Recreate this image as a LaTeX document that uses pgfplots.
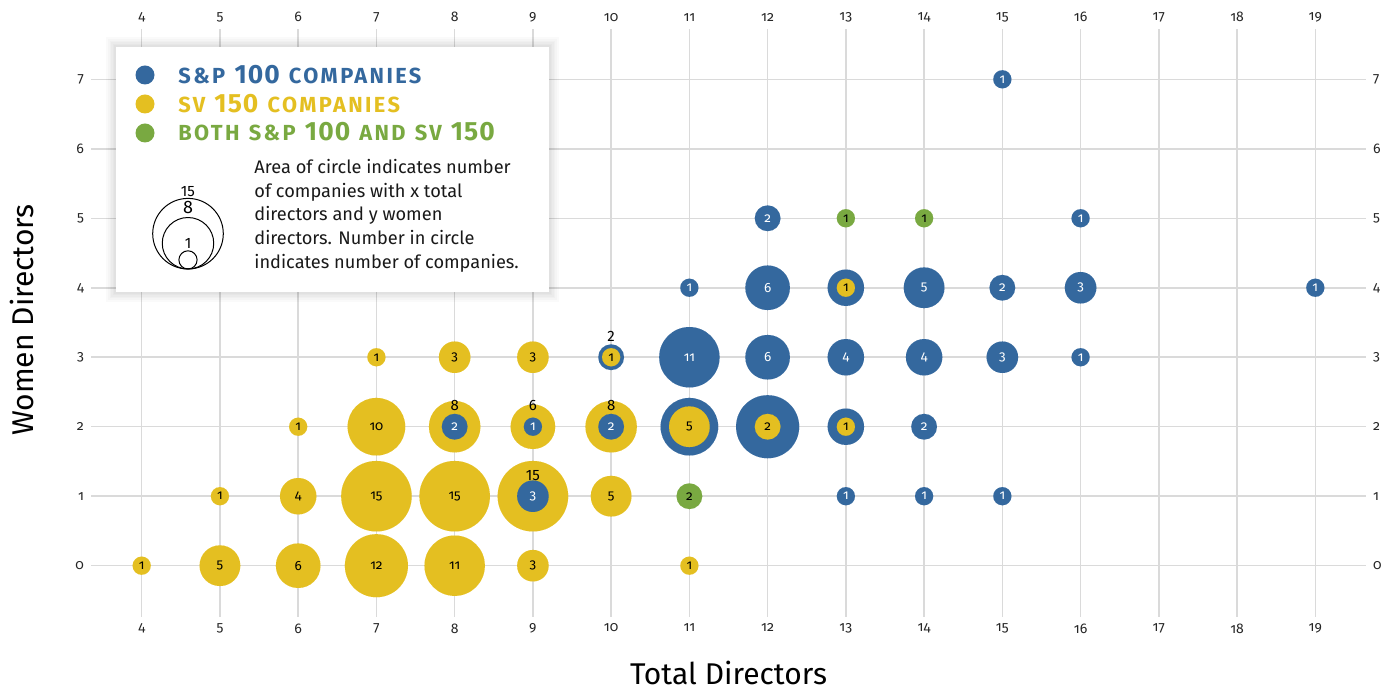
\documentclass[border=0pt]{standalone}
\usepackage{pgfplots}
\pgfplotsset{compat=1.18}
\usepackage{pgfplotstable}
\usepackage{fontspec}
\setmainfont{Fira Sans}[Numbers=OldStyle]
\definecolor{spblue}{RGB}{52,104,158}
\definecolor{svyellow}{RGB}{228,191,33}
\definecolor{bothgreen}{RGB}{121,169,65}
\definecolor{gridgray}{RGB}{218,218,218}
\newcommand\bubfont{\fontsize{6.7}{7}\selectfont}

\pgfplotstableread{
x y n
13 1 1
14 1 1
15 1 1
14 2 2
11 3 11
12 3 6
13 3 4
14 3 4
15 3 3
16 3 1
11 4 1
12 4 6
14 4 5
15 4 2
16 4 3
19 4 1
12 5 2
16 5 1
15 7 1
}\blueonly
\pgfplotstableread{
x y n
11 2 10
12 2 12
13 2 4
13 4 4
}\bluehidden
\pgfplotstableread{
x y n
10 3 2
}\blueup
\pgfplotstableread{
x y n
8 2 8
9 2 6
10 2 8
9 1 15
}\yellowup
\pgfplotstableread{
x y n
4 0 1
5 0 5
6 0 6
7 0 12
8 0 11
9 0 3
11 0 1
5 1 1
6 1 4
7 1 15
8 1 15
10 1 5
6 2 1
7 2 10
11 2 5
12 2 2
13 2 1
7 3 1
8 3 3
9 3 3
10 3 1
13 4 1
}\yellowc
\pgfplotstableread{
x y n
8 2 2
9 2 1
10 2 2
9 1 3
}\blueinner
\pgfplotstableread{
x y n
11 1 2
13 5 1
14 5 1
}\greenc

\pgfplotsset{
  bub/.style={scatter, only marks, mark=*, point meta=\thisrow{n},
    visualization depends on={4.55*sqrt(\thisrow{n})\as\rr},
    scatter/@pre marker code/.code={\scope[mark size=\rr pt, fill=#1, draw=#1, line width=0.01pt]},
    scatter/@post marker code/.code={\endscope}},
  lab/.style={only marks, mark=none, point meta=\thisrow{n}, nodes near coords,
    every node near coord/.append style={anchor=center, font=\bubfont, text=#1, inner sep=0pt}},
  labup/.style={only marks, mark=none, point meta=\thisrow{n}, nodes near coords,
    every node near coord/.append style={anchor=center, yshift=10.5pt, font=\fontsize{7.5}{8}\selectfont\addfontfeatures{Numbers=Lining}, text=black, inner sep=0pt}},
  baseax/.style={scale only axis, width=637.5pt, height=293.85pt,
    xmin=3.352, xmax=19.648, ymin=-0.734, ymax=7.724,
    xtick={4,...,19}, ytick={0,...,7},
    axis line style={draw=none}, tick style={draw=none},
    /pgf/number format/assume math mode=true,
    ticklabel style={font=\fontsize{7}{8}\selectfont, text=black!85},
    clip=false, anchor=south west, at={(45.5pt,36.65pt)}},
}

\begin{document}
\begin{tikzpicture}
\useasboundingbox (0,0) rectangle (698pt,345pt);
\begin{axis}[baseax, grid=major, major grid style={gridgray, line width=0.75pt},
  xticklabel pos=lower, yticklabel pos=left]
% circles
\addplot[bub=spblue] table {\bluehidden};
\addplot[bub=spblue] table {\blueonly};
\addplot[bub=spblue] table {\blueup};
\addplot[bub=svyellow] table {\yellowup};
\addplot[bub=svyellow] table {\yellowc};
\addplot[bub=spblue] table {\blueinner};
\addplot[bub=bothgreen] table {\greenc};
% labels
\addplot[lab=white] table {\blueonly};
\addplot[lab=white] table {\blueinner};
\addplot[lab=black] table {\yellowc};
\addplot[lab=black] table {\greenc};
\addplot[labup] table {\blueup};
\addplot[labup] table {\yellowup};
\end{axis}
\begin{axis}[baseax, xticklabel pos=upper, yticklabel pos=right]
\end{axis}

% legend box
\foreach \i in {1,...,6}
  \fill[black, opacity=0.02] ({58pt-\i*0.8pt},{199pt-\i*0.8pt}) rectangle ({274.5pt+\i*0.8pt},{321.5pt+\i*0.8pt});
\fill[white] (58pt,199pt) rectangle (274.5pt,321.5pt);
\fill[spblue] (72.5pt,307.5pt) circle (4.75pt);
\fill[svyellow] (72.5pt,293pt) circle (4.75pt);
\fill[bothgreen] (72.5pt,278.5pt) circle (4.75pt);
\newcommand\lsc[1]{{\fontsize{10.9}{11}\selectfont\addfontfeatures{LetterSpace=11}#1}}
\newcommand\lnum[1]{{\fontsize{13.2}{13}\selectfont\addfontfeatures{Numbers=Lining, LetterSpace=4}#1}}
\newcommand\lsp{\hspace{4.6pt}}
\node[anchor=base west, inner sep=0pt, text=spblue, font=\bfseries] at (89pt,303pt) {\lsc{S\&P}\lsp\lnum{100}\lsp\lsc{COMPANIES}};
\node[anchor=base west, inner sep=0pt, text=svyellow, font=\bfseries] at (89pt,288.8pt) {\lsc{SV}\lsp\lnum{150}\lsp\lsc{COMPANIES}};
\node[anchor=base west, inner sep=0pt, text=bothgreen, font=\bfseries] at (89pt,274.6pt) {\lsc{BOTH}\lsp\lsc{S\&P}\lsp\lnum{100}\lsp\lsc{AND}\lsp\lsc{SV}\lsp\lnum{150}};
\foreach \t [count=\k from 0] in {Area of circle indicates number, of companies with x total, directors and y women, directors. Number in circle, indicates number of companies.}
  \node[anchor=base west, inner sep=0pt, font=\fontsize{9.1}{10}\selectfont\addfontfeatures{Numbers=Lining}, text=black!90] at (127pt,{258.3pt-\k*11.85pt}) {\t};
% size key
\draw[line width=0.5pt] (94pt,{210.5pt+17.65pt}) circle (17.65pt);
\draw[line width=0.5pt] (94pt,{210.5pt+12.87pt}) circle (12.87pt);
\draw[line width=0.5pt] (94pt,{210.5pt+4.55pt}) circle (4.55pt);
\node[inner sep=0pt, font=\fontsize{7.5}{8}\selectfont\addfontfeatures{Numbers=Lining}] at (94pt,249pt) {15};
\node[inner sep=0pt, font=\fontsize{9}{9}\selectfont\addfontfeatures{Numbers=Lining}] at (94pt,241pt) {8};
\node[inner sep=0pt, font=\fontsize{7.5}{8}\selectfont\addfontfeatures{Numbers=Lining}] at (94pt,223.5pt) {1};
% axis titles
\node[inner sep=0pt, font=\fontsize{15}{16}\selectfont] at (364.25pt,8.5pt) {Total Directors};
\node[inner sep=0pt, font=\fontsize{15}{16}\selectfont, rotate=90] at (11pt,185pt) {Women Directors};
\end{tikzpicture}
\end{document}
